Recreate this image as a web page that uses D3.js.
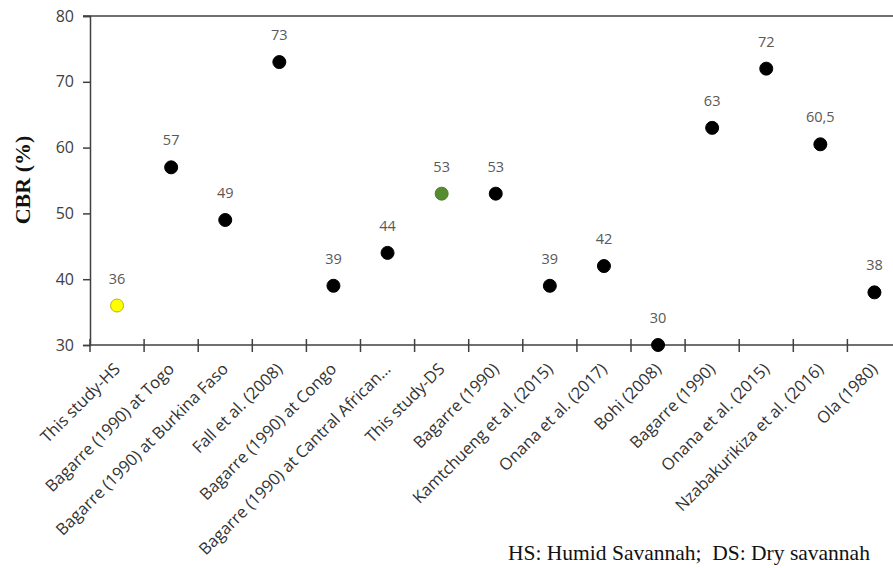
<!DOCTYPE html>
<html>
<head>
<meta charset="utf-8">
<script src="https://cdn.jsdelivr.net/npm/d3@7"></script>
<style>
  html, body { margin: 0; padding: 0; background: #fff; }
  svg { display: block; }
</style>
</head>
<body>
<svg id="chart" width="893" height="568"></svg>
<script>
const categories = [
  "This study-HS",
  "Bagarre (1990) at Togo",
  "Bagarre (1990) at Burkina Faso",
  "Fall et al. (2008)",
  "Bagarre (1990) at Congo",
  "Bagarre (1990) at Cantral African…",
  "This study-DS",
  "Bagarre (1990)",
  "Kamtchueng et al. (2015)",
  "Onana et al. (2017)",
  "Bohi (2008)",
  "Bagarre (1990)",
  "Onana et al. (2015)",
  "Nzabakurikiza et al. (2016)",
  "Ola (1980)"
];
const cbrValues = [36, 57, 49, 73, 39, 44, 53, 53, 39, 42, 30, 63, 72, 60.5, 38];
const valueLabels = ["36", "57", "49", "73", "39", "44", "53", "53", "39", "42", "30", "63", "72", "60,5", "38"];
const pointKinds = ["HS", "ref", "ref", "ref", "ref", "ref", "DS", "ref", "ref", "ref", "ref", "ref", "ref", "ref", "ref"];
const yTicks = [30, 40, 50, 60, 70, 80];
const yTitle = "CBR (%)";
const noteText = "HS: Humid Savannah;  DS: Dry savannah";

(function () {
const svg = d3.select("#chart");
const mLeft = 90, mTop = 16, mBottom = 345;
const bandW = 54.1;
const mRight = mLeft + bandW * categories.length;

const x = d3.scaleBand().domain(d3.range(categories.length)).range([mLeft, mRight]).paddingInner(0).paddingOuter(0);
const y = d3.scaleLinear().domain([30, 80]).range([mBottom, mTop]);

const axisColor = "#404040";

svg.append("line")
  .attr("x1", mLeft - 7).attr("x2", 893)
  .attr("y1", mTop).attr("y2", mTop)
  .attr("stroke", axisColor).attr("stroke-width", 1.5);

const yAxis = svg.append("g")
  .attr("transform", `translate(${mLeft},0)`)
  .call(d3.axisLeft(y).tickValues(yTicks).tickSize(7).tickPadding(9).tickFormat(d3.format("d")));
yAxis.select(".domain").attr("stroke", axisColor).attr("stroke-width", 1.5);
yAxis.selectAll(".tick line").attr("stroke", axisColor).attr("stroke-width", 1.5);
yAxis.selectAll(".tick text")
  .attr("fill", "#404040")
  .style("font-family", "'Open Sans', 'Liberation Sans', sans-serif")
  .style("font-size", "16px");

const xAxis = svg.append("g")
  .attr("transform", `translate(0,${mBottom})`)
  .call(d3.axisBottom(x).tickSize(0).tickFormat(i => categories[i]));
xAxis.select(".domain").remove();
svg.append("line")
  .attr("x1", mLeft).attr("x2", 893)
  .attr("y1", mBottom).attr("y2", mBottom)
  .attr("stroke", axisColor).attr("stroke-width", 1.5);
svg.append("g").selectAll("line")
  .data(d3.range(categories.length + 1))
  .join("line")
  .attr("x1", i => mLeft + bandW * i)
  .attr("x2", i => mLeft + bandW * i)
  .attr("y1", mBottom - 6).attr("y2", mBottom + 7)
  .attr("stroke", axisColor).attr("stroke-width", 1.5);

xAxis.selectAll(".tick text")
  .attr("fill", "#333")
  .style("font-family", "'Open Sans', 'Liberation Sans', sans-serif")
  .style("font-size", "16.5px")
  .attr("text-anchor", "end")
  .attr("transform", "translate(0,21) rotate(-45)")
  .attr("dy", "0.35em")
  .attr("y", 0)
  .attr("x", 0);

const colorFill = { HS: "#ffff00", DS: "#548c2f", ref: "#000000" };
const colorStroke = { HS: "#b8b800", DS: "#4a7f2a", ref: "#000000" };
svg.append("g").selectAll("circle")
  .data(cbrValues)
  .join("circle")
  .attr("cx", (d, i) => x(i) + x.bandwidth() / 2)
  .attr("cy", d => y(d))
  .attr("r", 6.5)
  .attr("fill", (d, i) => colorFill[pointKinds[i]])
  .attr("stroke", (d, i) => colorStroke[pointKinds[i]])
  .attr("stroke-width", 1);

svg.append("g").selectAll("text")
  .data(cbrValues)
  .join("text")
  .attr("x", (d, i) => x(i) + x.bandwidth() / 2)
  .attr("y", d => y(d) - 22)
  .attr("text-anchor", "middle")
  .attr("fill", "#595959")
  .style("font-family", "'Open Sans', 'Liberation Sans', sans-serif")
  .style("font-size", "14.5px")
  .text((d, i) => valueLabels[i]);

svg.append("text")
  .attr("transform", "translate(30,180) rotate(-90)")
  .attr("text-anchor", "middle")
  .attr("fill", "#111")
  .style("font-family", "'Liberation Serif', 'Times New Roman', serif")
  .style("font-weight", "bold")
  .style("font-size", "22px")
  .text(yTitle);

svg.append("text")
  .attr("x", 508).attr("y", 560)
  .attr("fill", "#111")
  .style("font-family", "'Liberation Serif', 'Times New Roman', serif")
  .style("font-size", "21.5px")
  .style("white-space", "pre")
  .attr("xml:space", "preserve")
  .text(noteText);
})();
</script>
</body>
</html>
